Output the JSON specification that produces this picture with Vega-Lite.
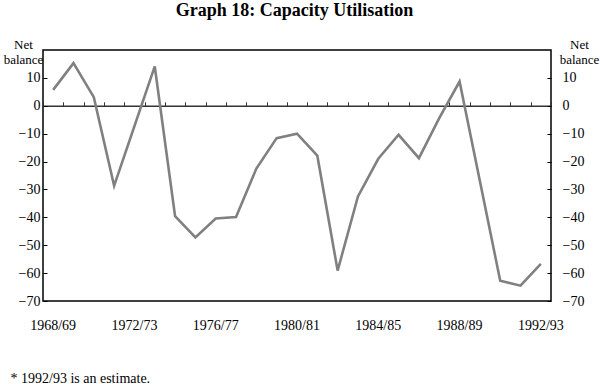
{
  "$schema": "https://vega.github.io/schema/vega-lite/v6.json",
  "width": 508,
  "height": 251,
  "autosize": {"type": "none"},
  "padding": {"left": 43, "top": 50, "right": 49, "bottom": 83},
  "config": {
    "view": {"stroke": "#000", "strokeWidth": 1.5},
    "axis": {
      "labelFont": "Liberation Serif",
      "labelFontSize": 14,
      "labelColor": "#000",
      "titleFont": "Liberation Serif",
      "titleFontSize": 13,
      "titleFontWeight": "normal",
      "titleColor": "#000",
      "grid": false,
      "domain": false,
      "tickColor": "#000"
    }
  },
  "data": {
    "values": [
      {"period": "1968/69", "value": 5.7},
      {"period": "1969/70", "value": 15.3},
      {"period": "1970/71", "value": 3.1},
      {"period": "1971/72", "value": -28.7},
      {"period": "1972/73", "value": -7.3},
      {"period": "1973/74", "value": 14.1},
      {"period": "1974/75", "value": -39.6},
      {"period": "1975/76", "value": -47.2},
      {"period": "1976/77", "value": -40.4},
      {"period": "1977/78", "value": -39.9},
      {"period": "1978/79", "value": -22.5},
      {"period": "1979/80", "value": -11.6},
      {"period": "1980/81", "value": -10.0},
      {"period": "1981/82", "value": -17.9},
      {"period": "1982/83", "value": -59.1},
      {"period": "1983/84", "value": -32.5},
      {"period": "1984/85", "value": -19.0},
      {"period": "1985/86", "value": -10.4},
      {"period": "1986/87", "value": -18.8},
      {"period": "1987/88", "value": -4.4},
      {"period": "1988/89", "value": 8.7},
      {"period": "1989/90", "value": -27.0},
      {"period": "1990/91", "value": -62.7},
      {"period": "1991/92", "value": -64.5},
      {"period": "1992/93", "value": -56.7}
    ]
  },
  "layer": [
    {
      "mark": {"type": "line", "color": "#808080", "strokeWidth": 2.6},
      "encoding": {
        "x": {
          "field": "period",
          "type": "ordinal",
          "sort": null,
          "scale": {"type": "band", "paddingInner": 0, "paddingOuter": 0},
          "axis": {
            "orient": "bottom",
            "values": ["1968/69", "1972/73", "1976/77", "1980/81", "1984/85", "1988/89", "1992/93"],
            "ticks": false,
            "labelAngle": 0,
            "labelPadding": 17,
            "title": "* 1992/93 is an estimate.",
            "titleFontSize": 14,
            "titleX": -33,
            "titleY": 81,
            "titleAlign": "left",
            "titleAnchor": "start",
            "titleBaseline": "alphabetic"
          }
        },
        "y": {
          "field": "value",
          "type": "quantitative",
          "scale": {"domain": [-70, 20], "nice": false, "zero": false},
          "axis": {
            "orient": "left",
            "values": [-70, -60, -50, -40, -30, -20, -10, 0, 10],
            "tickSize": -4,
            "labelPadding": 7,
            "title": ["Net", "balance"],
            "titleAngle": 0,
            "titleX": -20,
            "titleY": -2,
            "titleAlign": "center",
            "titleBaseline": "alphabetic",
            "titleLineHeight": 15
          }
        }
      }
    },
    {
      "mark": {"type": "line", "strokeOpacity": 0},
      "encoding": {
        "x": {
          "field": "period",
          "type": "ordinal",
          "sort": null,
          "scale": {"type": "band", "paddingInner": 0, "paddingOuter": 0},
          "axis": {
            "orient": "top",
            "offset": -55.8,
            "domain": true,
            "domainColor": "#333",
            "domainWidth": 1.5,
            "ticks": true,
            "tickBand": "extent",
            "tickSize": 4,
            "tickColor": "#333",
            "labels": false,
            "title": "Graph 18: Capacity Utilisation",
            "titleFontSize": 18,
            "titleFontWeight": "bold",
            "titleX": 251,
            "titleY": -90.5,
            "titleAlign": "center",
            "titleBaseline": "alphabetic"
          }
        },
        "y": {
          "field": "value",
          "type": "quantitative",
          "axis": {
            "orient": "right",
            "values": [-70, -60, -50, -40, -30, -20, -10, 0, 10],
            "tickSize": -4,
            "labelPadding": 15,
            "title": ["Net", "balance"],
            "titleAngle": 0,
            "titleX": 28,
            "titleY": -2,
            "titleAlign": "center",
            "titleBaseline": "alphabetic",
            "titleLineHeight": 15
          }
        }
      }
    }
  ],
  "resolve": {"axis": {"x": "independent", "y": "independent"}}
}
